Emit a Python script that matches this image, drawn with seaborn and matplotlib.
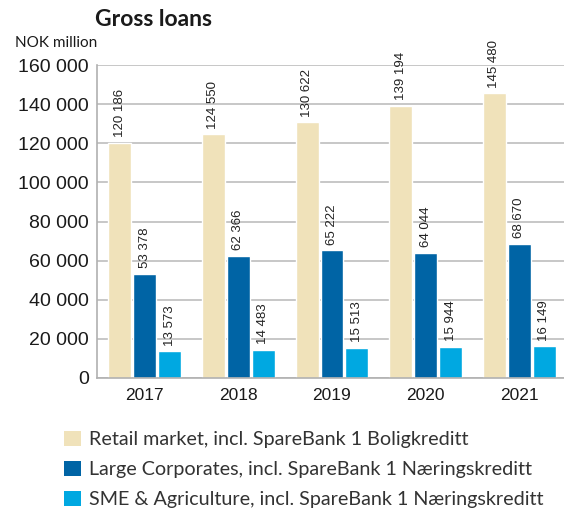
import matplotlib
matplotlib.use("Agg")
import matplotlib.pyplot as plt
import seaborn as sns
import pandas as pd
from matplotlib.patches import Patch

years = ["2017", "2018", "2019", "2020", "2021"]
series = [
    "Retail market, incl. SpareBank 1 Boligkreditt",
    "Large Corporates, incl. SpareBank 1 Næringskreditt",
    "SME & Agriculture, incl. SpareBank 1 Næringskreditt",
]
retail = [120186, 124550, 130622, 139194, 145480]
large_corp = [53378, 62366, 65222, 64044, 68670]
sme_agri = [13573, 14483, 15513, 15944, 16149]
colors = ["#F0E2BA", "#0064A5", "#00A8E1"]

df = pd.DataFrame({
    "year": years * 3,
    "segment": [series[0]] * 5 + [series[1]] * 5 + [series[2]] * 5,
    "value": retail + large_corp + sme_agri,
})

sns.set_style("white")
fig = plt.figure(figsize=(5.64, 5.13), dpi=100)
ax = fig.add_axes([97 / 564, (513 - 378) / 513, 1 - 97 / 564, (378 - 65) / 513])

sns.barplot(data=df, x="year", y="value", hue="segment", palette=colors,
            width=0.8, gap=0.08, ax=ax, legend=False, saturation=1)

ax.set_ylim(0, 160000)
ax.set_xlim(-0.507, 4.475)
ticks = list(range(0, 160001, 20000))
ax.set_yticks(ticks)
ax.set_yticklabels([f"{t:,}".replace(",", " ") for t in ticks],
                   fontfamily="Liberation Sans", fontsize=14, color="#1a1a1a")
ax.set_xticks(range(len(years)))
ax.set_xticklabels(years, fontfamily="Liberation Sans", fontsize=12.5, color="#1a1a1a")
ax.tick_params(axis="y", length=0, pad=6)
ax.tick_params(axis="x", length=0, pad=7)
ax.set_xlabel("")
ax.set_ylabel("")
ax.yaxis.grid(True, color="#bdbdbd", linewidth=1.2)
ax.set_axisbelow(True)
for side in ["top", "right"]:
    ax.spines[side].set_visible(False)
for side in ["left", "bottom"]:
    ax.spines[side].set_color("#b0b0b0")
    ax.spines[side].set_linewidth(1.2)

for cont in ax.containers:
    labels = [f"{int(round(v)):,}".replace(",", " ") for v in cont.datavalues]
    ax.bar_label(cont, labels=labels, rotation=90, padding=4,
                 fontsize=9.5, fontfamily="Liberation Sans", color="#222222")

fig.text(95 / 564, 1 - 20 / 513, "Gross loans", fontsize=16.5, fontweight="bold",
         fontfamily="Lato", color="#1a1a1a", va="center", ha="left")
fig.text(15 / 564, 1 - 43 / 513, "NOK million", fontsize=11,
         fontfamily="Lato", color="#1a1a1a", va="center", ha="left")

handles = [Patch(facecolor=c, edgecolor="none") for c in colors]
fig.legend(handles, series, loc="upper left", bbox_to_anchor=(46 / 564, 1 - 413 / 513),
           frameon=False, prop={"family": "Lato", "size": 14.2},
           handlelength=0.85, handleheight=0.85, handletextpad=0.45,
           labelspacing=0.62, labelcolor="#333333")

fig.savefig("out.png", dpi=100)
